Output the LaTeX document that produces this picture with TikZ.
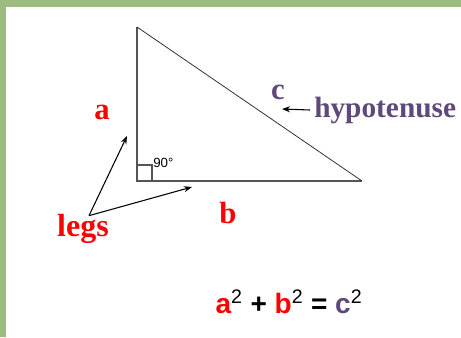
\documentclass[tikz,border=0pt]{standalone}
\usepackage{fontspec}
\setmainfont{Liberation Serif}
\newfontfamily\eqfont{Liberation Sans}
\usepackage{xcolor}
\usepackage{tikz}
\usetikzlibrary{calc,arrows.meta}
\definecolor{frame}{HTML}{9BBB80}
\definecolor{legred}{HTML}{FF0000}
\definecolor{hypurple}{HTML}{5F497A}
\definecolor{side}{HTML}{555555}

\begin{document}
\begin{tikzpicture}[x=0.75pt,y=-0.75pt,>={Stealth[length=6pt,width=4.5pt]}]
  \useasboundingbox (0,0) rectangle (461,337);
  \fill[frame] (0,0) rectangle (461,7);
  \fill[frame] (0,0) rectangle (6,337);
  \coordinate (C) at (137,181);
  \coordinate (A) at (137,27);
  \coordinate (B) at (362,181);
  \draw[side,line width=1.1pt] (A)--(C)--(B);
  \draw[black!80,line width=0.6pt] (A)--(B);
  \draw[side,line width=0.8pt] (137,165)--(152,165)--(152,181);
  \node[anchor=west,inner sep=0pt,font=\eqfont\fontsize{10}{11}\selectfont] (ang) at (153,163) {90\textdegree};
  \node[legred,font=\bfseries\fontsize{23}{25}\selectfont] (a) at (102,112) {a};
  \node[legred,font=\bfseries\fontsize{23}{25}\selectfont] (b) at (228,213) {b};
  \node[hypurple,font=\bfseries\fontsize{23}{25}\selectfont] (c) at (278,92) {c};
  \node[hypurple,anchor=west,inner sep=0pt,font=\bfseries\fontsize{22}{24}\selectfont] (hyp) at (314,110) {hypotenuse};
  \node[legred,font=\bfseries\fontsize{24}{26}\selectfont] (legs) at (83,229) {legs};
  \coordinate (LA) at (127,136);
  \coordinate (LB) at (192,187);
  \coordinate (HC) at (282,109);
  \draw[->,line width=0.8pt] ($(legs.north)+(6,6)$)--(LA);
  \draw[->,line width=0.8pt] ($(legs.north)+(6,6)$)--(LB);
  \draw[->,line width=0.8pt] ($(hyp.west)+(-4,0)$)--(HC);
  \node[font=\eqfont\bfseries\fontsize{21}{23}\selectfont] (eq) at (289,302)
    {\textcolor{legred}{a}\textsuperscript{\mdseries 2} + \textcolor{legred}{b}\textsuperscript{\mdseries 2} = \textcolor{hypurple}{c}\textsuperscript{\mdseries 2}};
\end{tikzpicture}
\end{document}
